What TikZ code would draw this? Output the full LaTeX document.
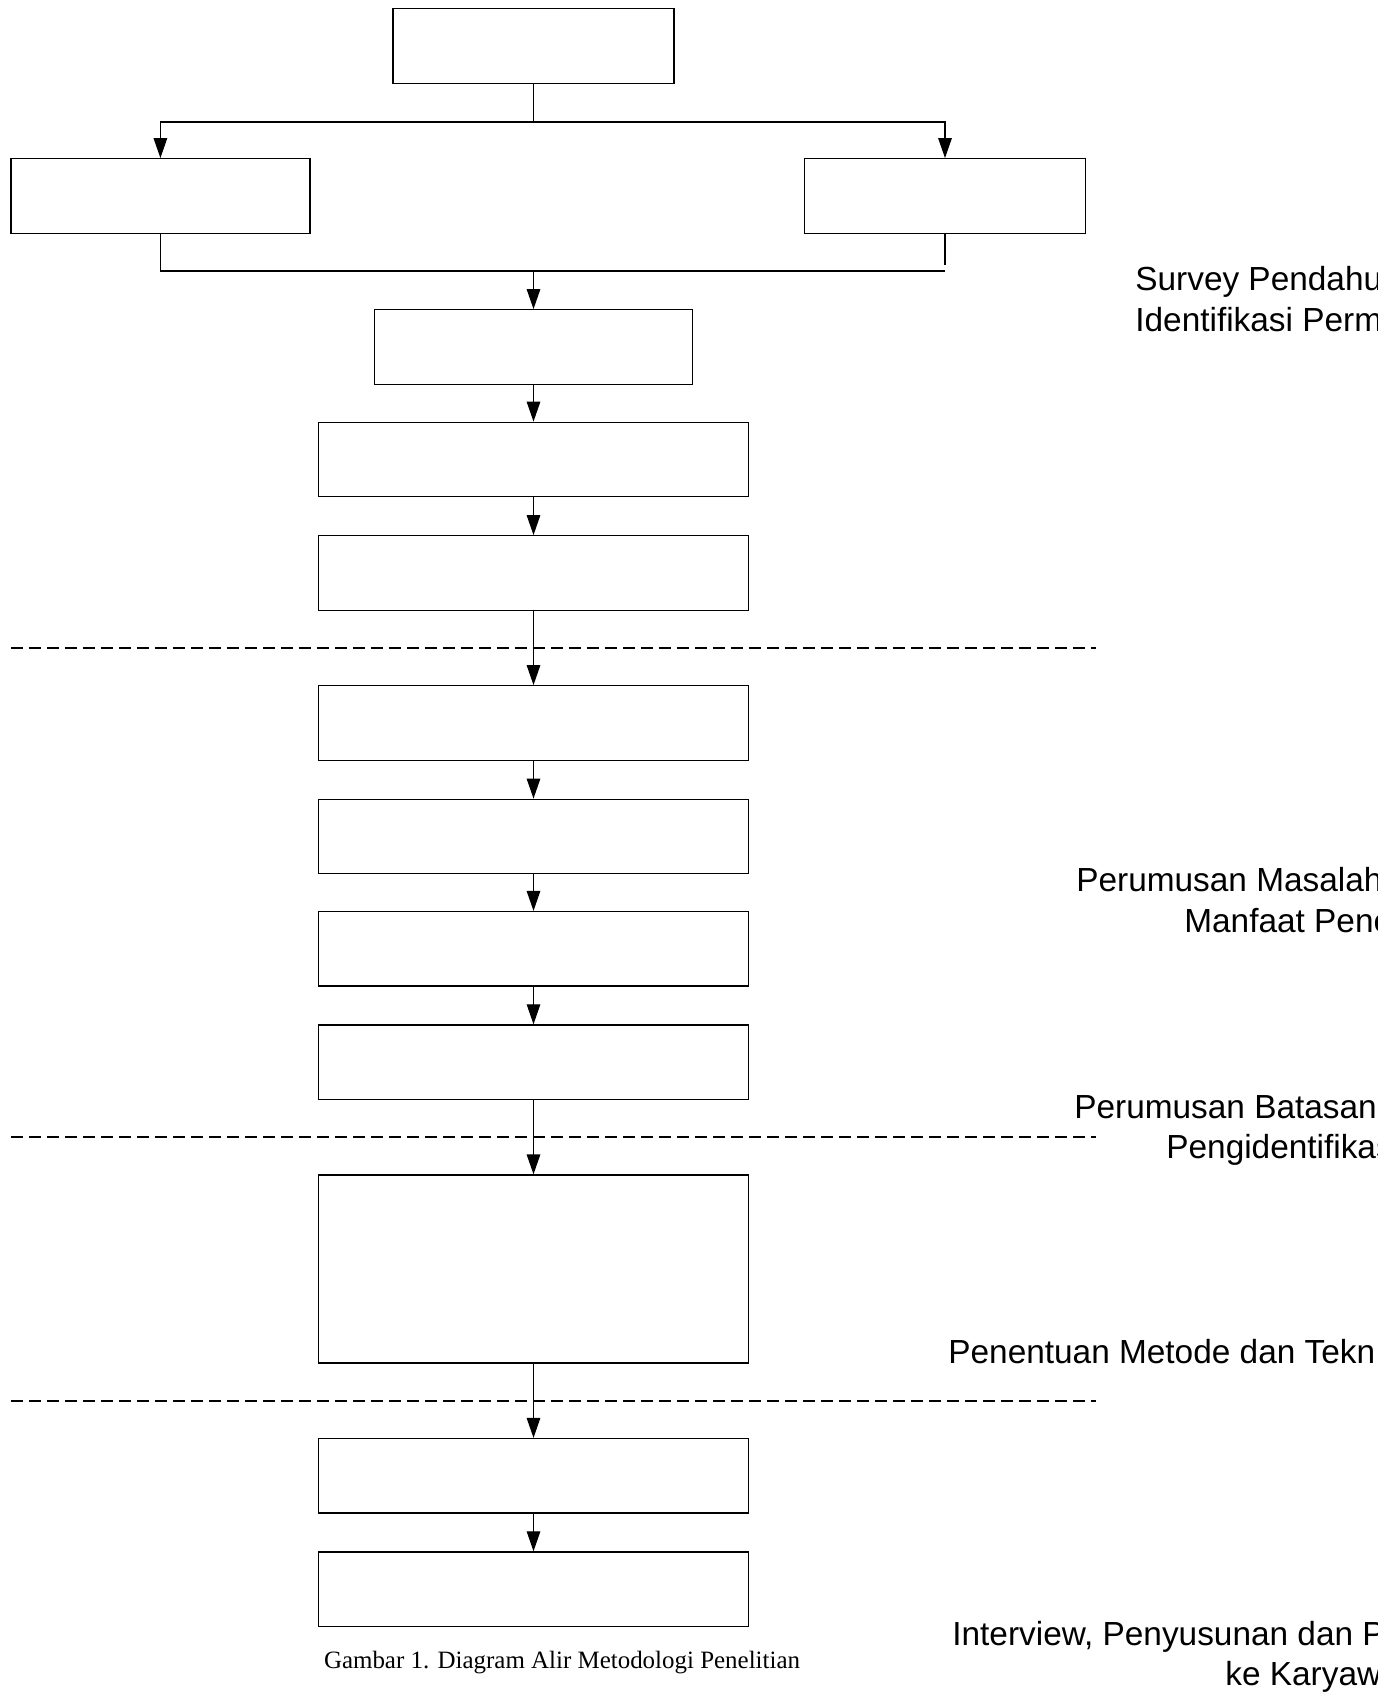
\documentclass[tikz,border=0pt]{standalone}
\usepackage{fontspec}
\setmainfont{Liberation Serif}
\setsansfont{Liberation Sans}
\usetikzlibrary{arrows.meta,positioning}
\tikzset{stepbox/.style={rectangle,draw=black,line width=0.75pt,minimum height=1.49cm,inner sep=0pt}}
\tikzset{mainbox/.style={stepbox,minimum width=8.6cm}}
\tikzset{flow/.style={-{Triangle[length=0.4cm,width=0.27cm]},line width=0.75pt}}
\tikzset{divider/.style={dash pattern=on 0.24cm off 0.12cm,line width=0.75pt}}
\tikzset{phase/.style={anchor=base west,inner sep=0pt,font=\sffamily\fontsize{19}{22}\selectfont}}

\begin{document}
\begin{tikzpicture}[x=0.02cm,y=-0.02cm]
\path[use as bounding box,clip] (0,0) rectangle (1378,1693);
% \draw[help lines,step=100] (0,0) grid (1378,1693);
\node (awal) [stepbox,minimum width=5.62cm] at (533.5,46) {};
\node (pustaka) [stepbox,minimum width=5.98cm] at (160.4,196) {};
\node (lapangan) [stepbox,minimum width=5.62cm] at (945,196) {};
\node (identifikasi) [stepbox,minimum width=6.35cm] at (533.5,347) {};
\node (masalah) [mainbox] at (533.5,459.5) {};
\node (tujuan) [mainbox] at (533.5,573) {};
%
\coordinate (split) at (533.5,122);
\coordinate (join) at (533.5,271);
\coordinate (lapend) at (945,265);
\draw[line width=0.75pt] (awal) -- (split);
\draw[flow] (split) -| (pustaka);
\draw[flow] (split) -| (lapangan);
\draw[line width=0.75pt] (pustaka) |- (join) -- (join -| lapangan);
\draw[line width=0.75pt] (lapangan) -- (lapend);
\path[flow] (join) edge (identifikasi);
\path[flow] (identifikasi) edge (masalah);
\path[flow] (masalah) edge (tujuan);

% second stage
\node (batasan) [mainbox] at (533.5,723) {};
\node (variabel) [mainbox] at (533.5,836.5) {};
\node (metode) [mainbox] at (533.5,948.8) {};
\node (teknik) [mainbox] at (533.5,1062.2) {};
%
\coordinate (cutA1) at (11,648);
\coordinate (cutA2) at (1096,648);
\draw[divider] (cutA1) -- (cutA2);
\path[flow] (tujuan) edge (batasan);
\path[flow] (batasan) edge (variabel);
\path[flow] (variabel) edge (metode);
\path[flow] (metode) edge (teknik);

% third stage
\node (kuesioner) [stepbox,minimum width=8.6cm,minimum height=3.76cm] at (533.5,1269) {};
\coordinate (cutB1) at (11,1137);
\coordinate (cutB2) at (1096,1137);
\draw[divider] (cutB1) -- (cutB2);
\path[flow] (teknik) edge (kuesioner);

% last stage
\node (interview) [mainbox] at (533.5,1475.8) {};
\node (sebar) [mainbox] at (533.5,1589.2) {};
\coordinate (cutC1) at (11,1401);
\coordinate (cutC2) at (1096,1401);
\draw[divider] (cutC1) -- (cutC2);
\path[flow] (kuesioner) edge (interview);
\path[flow] (interview) edge (sebar);

% phase labels
\node (surveyA) [phase] at (1135,290.6) {Survey Pendahu};
\node (surveyB) [phase] at (1135,331.6) {Identifikasi Perm};
\node (rumusA) [phase] at (1076,891.6) {Perumusan Masalah};
\node (rumusB) [phase] at (1184,932.6) {Manfaat Pene};
\node (batasA) [phase] at (1074,1118.6) {Perumusan Batasan};
\node (batasB) [phase] at (1166,1158.6) {Pengidentifikas};
\node (tentu) [phase] at (948,1363.6) {Penentuan Metode dan Tekn};
\node (sebarA) [phase] at (952,1645.6) {Interview, Penyusunan dan P};
\node (sebarB) [phase] at (1225,1685.6) {ke Karyaw};
\node (judul) [anchor=base,inner sep=0pt,font=\fontsize{14.2}{17}\selectfont] at (562,1668) {Gambar 1. Diagram Alir Metodologi Penelitian};
\end{tikzpicture}
\end{document}
